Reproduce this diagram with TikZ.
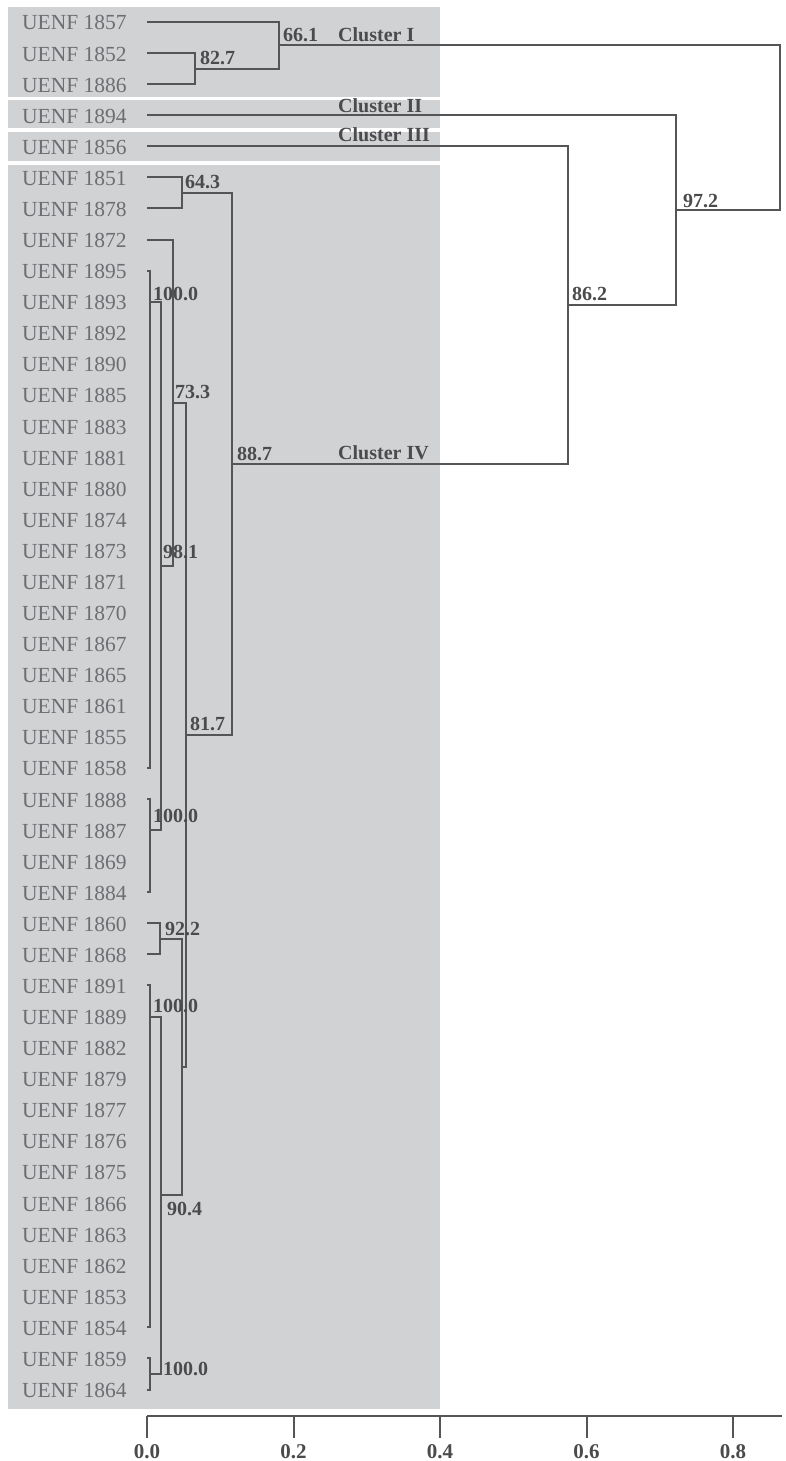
\documentclass[tikz,border=0pt]{standalone}
\usepackage{fontspec}
\setmainfont{Liberation Serif}
\definecolor{bandc}{HTML}{D1D2D4}
\definecolor{labc}{HTML}{6D6E71}
\definecolor{valc}{HTML}{4B4B4D}
\definecolor{linec}{HTML}{545557}
\begin{document}
\begin{tikzpicture}[x=1pt,y=-1pt,
  band/.style={fill=bandc,draw=none},
  leaf/.style={anchor=base west,inner sep=0pt,text=labc,font=\fontsize{21.5}{21.5}\selectfont},
  val/.style={anchor=base west,inner sep=0pt,text=valc,font=\bfseries\fontsize{20}{20}\selectfont},
  axl/.style={anchor=base,inner sep=0pt,text=valc,font=\bfseries\fontsize{21}{21}\selectfont},
  link/.style={draw=linec,line width=2pt}]
\useasboundingbox[fill=white] (0,0) rectangle (786,1461);
% bands
\path[band] (8,7) rectangle (440,97);
\path[band] (8,100) rectangle (440,128.5);
\path[band] (8,132) rectangle (440,161);
\path[band] (8,165) rectangle (440,1409);
% leaves
\foreach \n [count=\i from 0] in {1857,1852,1886,1894,1856,1851,1878,1872,1895,1893,1892,1890,1885,1883,1881,1880,1874,1873,1871,1870,1867,1865,1861,1855,1858,1888,1887,1869,1884,1860,1868,1891,1889,1882,1879,1877,1876,1875,1866,1863,1862,1853,1854,1859,1864}{
  \pgfmathsetmacro\yy{22+31.08*\i}
  \node[leaf] (L\n) at (22,\yy+8) {UENF \n};
  \coordinate (t\n) at (147,\yy);
}
% internal nodes
\coordinate (n827) at (195,68.62);
\coordinate (n661) at (279,45.31);
\coordinate (D) at (182,192.94);
\coordinate (b1) at (150,301.72);
\coordinate (b2) at (150,830.08);
\coordinate (H) at (161,565.9);
\coordinate (F) at (173,402.73);
\coordinate (I) at (160,938.86);
\coordinate (b3) at (150,1016.56);
\coordinate (b4) at (150,1373.98);
\coordinate (J) at (161,1195.27);
\coordinate (G) at (182,1067.07);
\coordinate (E) at (186,734.9);
\coordinate (C) at (232,463.92);
\coordinate (B) at (568,305.12);
\coordinate (A) at (676,210.18);
\coordinate (R) at (780,127.75);
% connectors
\draw[link] (t1852) -| (n827) |- (t1886);
\draw[link] (t1857) -| (n661) |- (n827);
\draw[link] (t1851) -| (D) |- (t1878);
\draw[link] (t1895) -| (b1) |- (t1858);
\draw[link] (t1888) -| (b2) |- (t1884);
\draw[link] (b1) -| (H) |- (b2);
\draw[link] (t1872) -| (F) |- (H);
\draw[link] (t1860) -| (I) |- (t1868);
\draw[link] (t1891) -| (b3) |- (t1854);
\draw[link] (t1859) -| (b4) |- (t1864);
\draw[link] (b3) -| (J) |- (b4);
\draw[link] (I) -| (G) |- (J);
\draw[link] (F) -| (E) |- (G);
\draw[link] (D) -| (C) |- (E);
\draw[link] (t1856) -| (B) |- (C);
\draw[link] (t1894) -| (A) |- (B);
\draw[link] (n661) -| (R) |- (A);
% values
\node[val] (v661) at (283,41.5) {66.1};
\node[val] (v827) at (200,65) {82.7};
\node[val] (v643) at (185,188) {64.3};
\node[val] (v972) at (683,207) {97.2};
\node[val] (v862) at (572,300) {86.2};
\node[val] (v887) at (237,460) {88.7};
\node[val] (v733) at (175,398) {73.3};
\node[val] (v981) at (163,558) {98.1};
\node[val] (vb1) at (153,300) {100.0};
\node[val] (v817) at (190,730) {81.7};
\node[val] (vb2) at (153,822) {100.0};
\node[val] (v922) at (165,935) {92.2};
\node[val] (vb3) at (153,1012) {100.0};
\node[val] (v904) at (167,1215) {90.4};
\node[val] (vb4) at (163,1375) {100.0};
% cluster labels
\node[val] (c1) at (338,42) {Cluster I};
\node[val] (c2) at (338,112.5) {Cluster II};
\node[val] (c3) at (338,142) {Cluster III};
\node[val] (c4) at (338,459) {Cluster IV};
% axis
\coordinate (ax0) at (147,1416);
\coordinate (ax1) at (782,1416);
\draw[link] (ax0) -- (ax1);
\foreach \v [count=\k from 0] in {0.0,0.2,0.4,0.6,0.8}{
  \pgfmathsetmacro\xx{147+146.5*\k}
  \coordinate (tk\k) at (\xx,1416);
  \coordinate (tb\k) at (\xx,1438);
  \draw[link] (tk\k) -- (tb\k);
  \node[axl] (axl\k) at (\xx,1458) {\v};
}
\end{tikzpicture}
\end{document}
